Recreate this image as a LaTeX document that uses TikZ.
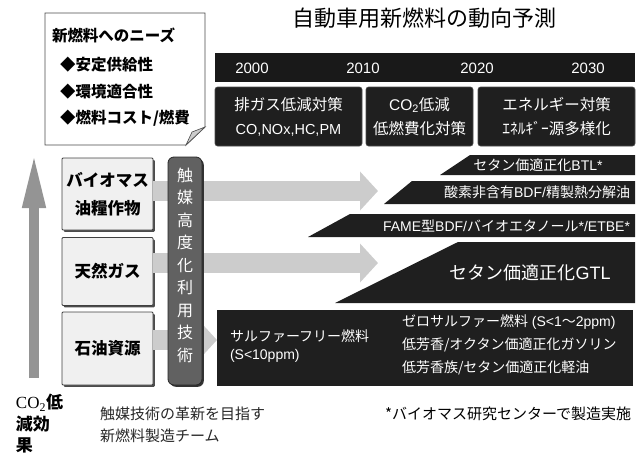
\documentclass[tikz,border=0pt]{standalone}
\usepackage{fontspec}
\setmainfont{Noto Sans CJK JP}
\newfontfamily\serifco{Liberation Serif}
\newfontfamily\lat{Liberation Sans}
\usetikzlibrary{arrows.meta,shadows}
\newcommand\myfs[1]{\fontsize{#1}{#1}\selectfont}
\begin{document}
\begin{tikzpicture}[x=1pt,y=-1pt,
  every node/.style={inner sep=0pt, outer sep=0pt},
  darkbox/.style={fill=black!88, draw=black!70, line width=0.6pt, rounded corners=2.5pt},
  wtext/.style={text=white},
  leftbox/.style={fill=black!6, draw=black!75, line width=0.8pt, rounded corners=1pt,
     drop shadow={shadow xshift=1.8pt, shadow yshift=-1.8pt, fill=black!70, opacity=1},
     font=\bfseries\fontsize{16.5}{28}\selectfont, align=center},
  techbox/.style={fill=black!62, draw=black!85, line width=0.8pt, rounded corners=6pt,
     drop shadow={shadow xshift=1.8pt, shadow yshift=-1.8pt, fill=black!80, opacity=1}},
  blockarrow/.style={line width=20pt, black!20, -{Triangle[width=38pt,length=18pt]}},
  band/.style={fill=black!88},
  bandtext/.style={text=white, font=\myfs{14}}
]
\useasboundingbox (0,0) rectangle (643,456);

% title
\node[font=\myfs{22}] (title) at (424,18) {自動車用新燃料の動向予測};

% callout
\draw[black!70, line width=0.8pt, fill=white] (45,13) -- (205,13) -- (205,127) -- (186,145) -- (45,145) -- cycle;
\filldraw[black!70, fill=black!20, line width=0.6pt] (186,145) -- (205,127) -- (192,132) -- cycle;
\node[anchor=west, font=\bfseries\myfs{15.5}] (needs) at (52,35) {新燃料へのニーズ};
\node[anchor=west, font=\bfseries\myfs{15.5}] (n1) at (60,65) {◆安定供給性};
\node[anchor=west, font=\bfseries\myfs{15.5}] (n2) at (60,92) {◆環境適合性};
\node[anchor=west, font=\bfseries\myfs{15.5}] (n3) at (60,118) {◆燃料コスト/燃費};

% year bar
\node[fill=black!90, minimum width=420pt, minimum height=29pt] (yearbar) at (425,67.5) {};
\node[wtext, font=\lat\myfs{15}] (y2000) at (252,68) {2000};
\node[wtext, font=\lat\myfs{15}] (y2010) at (363,68) {2010};
\node[wtext, font=\lat\myfs{15}] (y2020) at (477,68) {2020};
\node[wtext, font=\lat\myfs{15}] (y2030) at (588,68) {2030};

% policy boxes
\node[darkbox, wtext, minimum width=147pt, minimum height=59pt, align=center,
  font=\fontsize{15.5}{24}\selectfont] (b1) at (288.5,116.5) {排ガス低減対策\\{\lat\fontsize{14.5}{24}\selectfont CO,NOx,HC,PM}};
\node[darkbox, wtext, minimum width=107pt, minimum height=59pt, align=center,
  font=\fontsize{15.5}{24}\selectfont] (b2) at (419.5,116.5) {{\lat CO\textsubscript{2}}低減\\低燃費化対策};
\node[darkbox, wtext, minimum width=157pt, minimum height=59pt, align=center,
  font=\fontsize{15.5}{24}\selectfont] (b3) at (556.5,116.5) {エネルギー対策\\ｴﾈﾙｷﾞｰ源多様化};

% big CO2 arrow
\coordinate (co2base) at (34,378);
\coordinate (co2top) at (34,152);
\draw[line width=10pt, black!42, -{Triangle[width=21pt,length=56pt]}] (co2base) -- (co2top);

% left boxes
\node[leftbox, minimum width=91pt, minimum height=72pt] (bio) at (107.5,194) {バイオマス\\油糧作物};
\node[leftbox, minimum width=91pt, minimum height=68pt] (gas) at (107.5,271.5) {天然ガス};
\node[leftbox, minimum width=91pt, minimum height=73pt] (oil) at (107.5,348.5) {石油資源};

% bottom black box
\node[fill=black!88, minimum width=416pt, minimum height=76pt] (fuel) at (425,348) {};

% block arrows
\coordinate (tip1) at (378,191);
\coordinate (tip2) at (378,263);
\coordinate (tip3) at (217,340);
\draw[blockarrow] (bio.east |- tip1) -- (tip1);
\draw[blockarrow] (gas.east |- tip2) -- (tip2);
\draw[blockarrow] (oil.east |- tip3) -- (fuel.west |- tip3);

% catalyst technology box
\node[techbox, minimum width=34pt, minimum height=228pt] (tech) at (185,271) {};
\node[wtext, align=center, font=\fontsize{16}{22.5}\selectfont] (techtxt) at (185,265)
  {触\\媒\\高\\度\\化\\利\\用\\技\\術};

% slanted bands
\fill[band] (470,155) -- (635,155) -- (635,175) -- (440,175) -- cycle;
\node[bandtext] (btl) at (538,165.5) {セタン価適正化{\lat BTL*}};
\fill[band] (412,181) -- (635,181) -- (635,204) -- (384,204) -- cycle;
\node[bandtext, anchor=east] (bdf) at (630,192.5) {酸素非含有{\lat BDF/}精製熱分解油};
\fill[band] (350,214) -- (635,214) -- (635,237) -- (308,237) -- cycle;
\node[bandtext, anchor=east] (fame) at (630,225.5) {{\lat FAME}型{\lat BDF/}バイオエタノール{\lat */ETBE*}};
\fill[band] (458,242) -- (635,242) -- (635,303) -- (335,303) -- cycle;
\node[wtext, font=\myfs{18}] (gtl) at (530,273) {セタン価適正化{\lat GTL}};

% bottom box texts
\node[wtext, anchor=west, align=left, font=\fontsize{14}{18}\selectfont] (sf) at (230,346.5) {サルファーフリー燃料\\{\lat (S<10ppm)}};
\node[wtext, anchor=west, align=left, font=\fontsize{14}{23}\selectfont] (zs) at (402,345) {ゼロサルファー燃料{\lat\ (S<1}～{\lat 2ppm)}\\低芳香/オクタン価適正化ガソリン\\低芳香族/セタン価適正化軽油};

% bottom labels
\node[anchor=west, font=\bfseries\myfs{17}] (co2a) at (16,403) {{\serifco\mdseries CO\textsubscript{2}}低};
\node[anchor=west, font=\bfseries\myfs{17}] (co2b) at (16,424) {減効};
\node[anchor=west, font=\bfseries\myfs{17}] (co2c) at (16,445) {果};
\node[anchor=west, align=left, text=black!85, font=\fontsize{15}{22}\selectfont] (team) at (100,425) {触媒技術の革新を目指す\\新燃料製造チーム};
\node[anchor=west, font=\myfs{15}] (note) at (385,414) {*バイオマス研究センターで製造実施};
\end{tikzpicture}
\end{document}
